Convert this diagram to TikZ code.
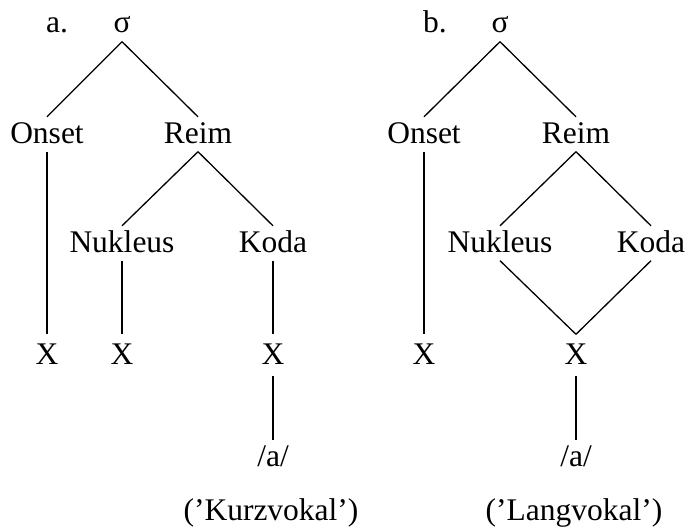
\documentclass[tikz,border=0pt]{standalone}
\usepackage{fontspec}
\setmainfont{Liberation Serif}
\begin{document}
\begin{tikzpicture}[x=1pt,y=-1pt,
  lbl/.style={anchor=base,inner xsep=0pt,inner ysep=5.5pt,
    text height=20.5pt,text depth=3pt,
    font=\fontsize{31.5}{36}\selectfont},
  slot/.style={lbl,inner ysep=9pt},
  edge/.style={line width=1.3pt}]
\useasboundingbox (0,0) rectangle (686,527);

% tree a: short vowel
\node[lbl] (la) at (57,33) {a.};
\node[lbl] (sa) at (122,33) {σ};
\node[lbl] (oa) at (47,143) {Onset};
\node[lbl] (ra) at (198,143) {Reim};
\node[lbl] (na) at (122,252) {Nukleus};
\node[lbl] (ka) at (273,252) {Koda};
\node[slot] (xa1) at (47,364) {X};
\node[slot] (xa2) at (122,364) {X};
\node[slot] (xa3) at (273,364) {X};
\node[lbl] (va) at (273,466) {/a/};
\node[lbl] (ca) at (271,520) {(’Kurzvokal’)};

\draw[edge] (sa.south) -- (oa.north);
\draw[edge] (sa.south) -- (ra.north);
\draw[edge] (ra.south) -- (na.north);
\draw[edge] (ra.south) -- (ka.north);
\draw[edge] (oa.south) -- (xa1.north);
\draw[edge] (na.south) -- (xa2.north);
\draw[edge] (ka.south) -- (xa3.north);
\draw[edge] (xa3.south) -- (va.north);

% tree b: long vowel
\node[lbl] (lb) at (435,33) {b.};
\node[lbl] (sb) at (500,33) {σ};
\node[lbl] (ob) at (424,143) {Onset};
\node[lbl] (rb) at (576,143) {Reim};
\node[lbl] (nb) at (500,252) {Nukleus};
\node[lbl] (kb) at (651,252) {Koda};
\node[slot] (xb1) at (424,364) {X};
\node[slot] (xb2) at (576,364) {X};
\node[lbl] (vb) at (576,466) {/a/};
\node[lbl] (cb) at (574,520) {(’Langvokal’)};

\draw[edge] (sb.south) -- (ob.north);
\draw[edge] (sb.south) -- (rb.north);
\draw[edge] (rb.south) -- (nb.north);
\draw[edge] (rb.south) -- (kb.north);
\draw[edge] (ob.south) -- (xb1.north);
\draw[edge] (nb.south) -- (xb2.north);
\draw[edge] (kb.south) -- (xb2.north);
\draw[edge] (xb2.south) -- (vb.north);
\end{tikzpicture}
\end{document}
